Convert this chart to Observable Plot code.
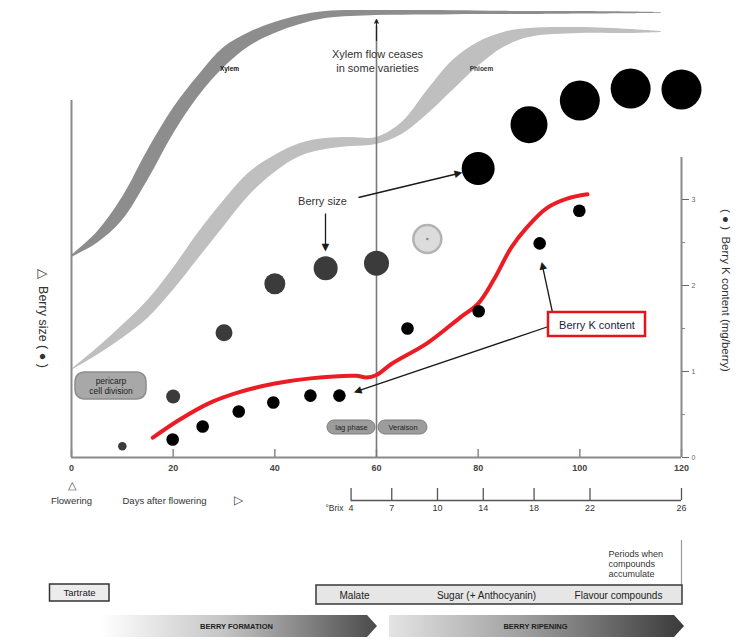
<!DOCTYPE html>
<html>
<head>
<meta charset="utf-8">
<script src="https://cdn.jsdelivr.net/npm/d3@7"></script>
<script src="https://cdn.jsdelivr.net/npm/@observablehq/plot@0.6"></script>
<style>
  body { margin: 0; background: #fff; }
  #chart svg { display: block; }
</style>
</head>
<body>
<div id="chart"></div>
<script>
// ---------- data ----------
const xTicks = [0, 20, 40, 60, 80, 100, 120];
const kTicks = [0, 1, 2, 3];
const kMinorTicks = [0.5, 1.5, 2.5];
const brixDays = [55, 63, 72, 81, 91, 102, 120];
const brixLabels = ["4", "7", "10", "14", "18", "22", "26"];

// berry size (relative, no ticks on its axis)
const sizeDays = [10, 20, 30, 40, 50, 60, 70, 80, 90, 100, 110, 120];
const sizeValues = [0.13, 0.71, 1.45, 2.02, 2.2, 2.26, 2.54, 3.36, 3.87, 4.15, 4.29, 4.28];
const sizeDiameters = [8.5, 14, 17, 21, 24, 25, 28, 33, 37, 40, 40, 40];
const sizeStages = ["green", "green", "green", "green", "green", "green", "veraison", "ripe", "ripe", "ripe", "ripe", "ripe"];

// berry K content (mg/berry)
const kDays = [19.9, 25.8, 32.9, 39.7, 47, 52.7, 66.1, 80.1, 92.1, 99.9];
const kValues = [0.21, 0.36, 0.535, 0.64, 0.72, 0.72, 1.5, 1.7, 2.49, 2.87];

// red K curve
const kCurveDays = [16, 21, 27, 33, 40, 47, 56, 58, 60, 63, 70, 76.5, 80, 83, 86.5, 89.5, 93.5, 97.5, 101.5];
const kCurveValues = [0.23, 0.43, 0.63, 0.76, 0.86, 0.92, 0.95, 0.93, 0.96, 1.09, 1.33, 1.63, 1.79, 2.06, 2.44, 2.67, 2.9, 3.01, 3.06];

// xylem / phloem flow bands (relative)
const flowDays = [0, 5, 10, 15, 20, 25, 30, 35, 40, 45, 50, 55, 60, 65, 70, 75, 80, 85, 90, 100, 110, 116];
const xylemLow = [2.326, 2.488, 2.756, 3.221, 3.756, 4.198, 4.535, 4.779, 4.930, 5.035, 5.105, 5.128, 5.140, 5.143, 5.145, 5.148, 5.151, 5.151, 5.151, 5.157, 5.160, 5.165];
const xylemHigh = [2.349, 2.616, 3.023, 3.570, 4.058, 4.442, 4.767, 4.942, 5.058, 5.140, 5.186, 5.198, 5.198, 5.198, 5.198, 5.195, 5.192, 5.188, 5.186, 5.186, 5.180, 5.174];
const phloemLow = [1.012, 1.186, 1.384, 1.616, 1.942, 2.314, 2.686, 3.047, 3.314, 3.500, 3.581, 3.616, 3.640, 3.756, 3.988, 4.267, 4.547, 4.767, 4.884, 4.930, 4.930, 4.942];
const phloemHigh = [1.023, 1.267, 1.535, 1.826, 2.198, 2.616, 2.988, 3.314, 3.512, 3.651, 3.709, 3.721, 3.721, 3.895, 4.267, 4.616, 4.826, 4.942, 4.988, 5.000, 4.977, 4.953];

const compounds = ["Malate", "Sugar (+ Anthocyanin)", "Flavour compounds"];

// ---------- tables ----------
const sizeData = sizeDays.map((d, i) => ({day: d, value: sizeValues[i], r: sizeDiameters[i] / 2, stage: sizeStages[i]}));
const kData = kDays.map((d, i) => ({day: d, value: kValues[i]}));
const kCurve = kCurveDays.map((d, i) => ({day: d, value: kCurveValues[i]}));
const xylem = flowDays.map((d, i) => ({day: d, lo: xylemLow[i], hi: xylemHigh[i]}));
const phloem = flowDays.map((d, i) => ({day: d, lo: phloemLow[i], hi: phloemHigh[i]}));
const brix = brixDays.map((d, i) => ({day: d, label: brixLabels[i]}));

// pixel helpers for annotation placement (layout only)
const X = px => (px - 71) * 120 / 610;
const Y = px => (457 - px) / 86;

const FONT = "'Liberation Sans', Arial, sans-serif";
const NARROW = "'Liberation Sans Narrow', 'Liberation Sans', Arial, sans-serif";

const stageFill = {green: "#3b3b3b", veraison: "#dcdcdc", ripe: "#000000"};
const stageStroke = {green: "none", veraison: "#b3b3b3", ripe: "none"};

// annotation arrows (start / tip, layout pixels) with filled heads
const arrowPx = [
  [358, 197, 462, 172],
  [325, 213, 325, 251],
  [552, 312, 541, 261],
  [548, 326, 353, 392]
];
const HEAD = 8;
const arrows = arrowPx.map(([sx, sy, tx, ty]) => {
  const len = Math.hypot(tx - sx, ty - sy);
  const ux = (tx - sx) / len, uy = (ty - sy) / len;
  return {
    x1: X(sx), y1: Y(sy),
    x2: X(tx - ux * HEAD * 0.8), y2: Y(ty - uy * HEAD * 0.8),
    hx: X(tx - ux * HEAD * 0.45), hy: Y(ty - uy * HEAD * 0.45),
    angle: Math.atan2(ux, -uy) * 180 / Math.PI
  };
});

const formationArrow = [
  {x: X(101), lo: Y(637), hi: Y(615)},
  {x: X(367), lo: Y(637), hi: Y(615)},
  {x: X(377), lo: Y(626), hi: Y(626)}
];
const ripeningArrow = [
  {x: X(389), lo: Y(637), hi: Y(615)},
  {x: X(674), lo: Y(637), hi: Y(615)},
  {x: X(684), lo: Y(626), hi: Y(626)}
];

const plot = Plot.plot({
  width: 739,
  height: 639,
  marginLeft: 71,
  marginRight: 58,
  marginTop: 0,
  marginBottom: 182,
  x: {domain: [0, 120]},
  y: {domain: [0, 457 / 86]},
  r: {type: "identity"},
  color: {type: "identity"},
  style: {fontFamily: FONT, background: "#fff", overflow: "visible", color: "#333"},
  marks: [
    // flow bands
    Plot.areaY(phloem, {x: "day", y1: "lo", y2: "hi", fill: "#bfbfbf", curve: "catmull-rom"}),
    Plot.areaY(xylem, {x: "day", y1: "lo", y2: "hi", fill: "#8d8d8d", curve: "catmull-rom"}),
    Plot.text(["Xylem"], {x: X(229), y: Y(68), fontSize: 6.5, fontWeight: "bold", fill: "#111"}),
    Plot.text(["Phloem"], {x: X(481), y: Y(68), fontSize: 6.5, fontWeight: "bold", fill: "#333"}),

    // frame lines
    Plot.ruleX([0], {y1: 0, y2: Y(100), stroke: "#8a8a8a", strokeWidth: 2}),
    Plot.ruleX([120], {y1: 0, y2: Y(157), stroke: "#8a8a8a", strokeWidth: 2}),
    Plot.ruleY([0], {x1: 0, x2: 120, stroke: "#8a8a8a", strokeWidth: 2}),
    Plot.ruleX(xTicks, {y1: 0, y2: Y(449), stroke: "#8a8a8a", strokeWidth: 1.5}),
    Plot.axisX({ticks: xTicks, tickSize: 0, tickPadding: 7, fontSize: 9, fontWeight: "bold", color: "#444", label: null}),
    Plot.axisY({anchor: "right", ticks: kTicks, tickSize: 7, tickPadding: 3, fontSize: 7, tickFormat: d => String(d), color: "#666", label: null}),
    Plot.axisY({anchor: "right", ticks: kMinorTicks, tickSize: 3, tickFormat: () => "", color: "#888", label: null}),

    // veraison line
    Plot.ruleX([60], {y1: 0, y2: Y(26), stroke: "#7a7a7a", strokeWidth: 1.6}),
    Plot.arrow([0], {x1: 60, y1: Y(40), x2: 60, y2: Y(19), stroke: "#222", strokeWidth: 1.2, headLength: 5, headAngle: 50}),
    Plot.text(["Xylem flow ceases\nin some varieties"], {x: X(377), y: Y(60), fontSize: 11, lineHeight: 1.25, fill: "#333"}),

    // stage boxes
    Plot.rect([0], {x1: X(75), x2: X(146), y1: Y(399), y2: Y(372), rx: 9, fill: "#a8a8a8", stroke: "#8c8c8c", strokeWidth: 1.5}),
    Plot.text(["pericarp\ncell division"], {x: X(110.5), y: Y(385.5), fontSize: 8.5, lineHeight: 1.1, fill: "#1e1e1e"}),
    Plot.rect([0], {x1: X(327), x2: X(375), y1: Y(434), y2: Y(420), rx: 7, fill: "#9c9c9c", stroke: "#7e7e7e", strokeWidth: 1}),
    Plot.text(["lag phase"], {x: X(351), y: Y(427), fontSize: 7.5, fill: "#1e1e1e"}),
    Plot.rect([0], {x1: X(378), x2: X(427), y1: Y(434), y2: Y(420), rx: 7, fill: "#9c9c9c", stroke: "#7e7e7e", strokeWidth: 1}),
    Plot.text(["Veraison"], {x: X(402.5), y: Y(427), fontSize: 7.5, fill: "#1e1e1e"}),

    // K curve and dots
    Plot.line(kCurve, {x: "day", y: "value", stroke: "#ec1c24", strokeWidth: 4, curve: "catmull-rom"}),
    Plot.dot(sizeData, {x: "day", y: "value", r: "r", fill: d => stageFill[d.stage], stroke: d => stageStroke[d.stage], strokeWidth: 2.5}),
    Plot.dot(sizeData.filter(d => d.stage === "veraison"), {x: "day", y: "value", r: 1.3, fill: "#8a8a8a"}),
    Plot.dot(kData, {x: "day", y: "value", r: 6.3, fill: "#000"}),

    // annotations
    Plot.text(["Berry size"], {x: X(322), y: Y(201), fontSize: 11, fill: "#333"}),
    Plot.link(arrows, {x1: "x1", y1: "y1", x2: "x2", y2: "y2", stroke: "#1a1a1a", strokeWidth: 1.3}),
    Plot.text(arrows, {x: "hx", y: "hy", text: () => "\u25B2", rotate: "angle", fontSize: 10, fill: "#1a1a1a", fontFamily: "DejaVu Sans, sans-serif"}),
    Plot.rect([0], {x1: X(548), x2: X(645), y1: Y(336), y2: Y(312), fill: "#fff", stroke: "#e3141c", strokeWidth: 2.5}),
    Plot.text(["Berry K content"], {x: X(596.5), y: Y(324.5), fontSize: 11, fill: "#1c1c3c"}),

    // axis titles
    Plot.text(["\u25B3  Berry size ( \u25CF )"], {x: X(42), y: Y(318), rotate: 90, fontSize: 12.5, fill: "#333"}),
    Plot.text(["( \u25CF )  Berry K content (mg/berry)"], {x: X(725), y: Y(290), rotate: 90, fontSize: 11.5, fill: "#333"}),

    // below the axis
    Plot.text(["\u25B3"], {x: 0, y: Y(485), fontSize: 11, fill: "#444"}),
    Plot.text(["Flowering"], {x: 0, y: Y(500), fontSize: 9.5, fill: "#333", fontFamily: NARROW}),
    Plot.text(["Days after flowering"], {x: X(122), y: Y(500), textAnchor: "start", fontSize: 9.5, fill: "#333", fontFamily: NARROW}),
    Plot.text(["\u25B7"], {x: X(238), y: Y(500), fontSize: 12, fill: "#444"}),

    // Brix scale
    Plot.ruleY([Y(500)], {x1: brixDays[0], x2: brixDays[brixDays.length - 1], stroke: "#555", strokeWidth: 1.3}),
    Plot.ruleX(brix, {x: "day", y1: Y(500), y2: Y(488), stroke: "#555", strokeWidth: 1.3}),
    Plot.text(brix, {x: "day", y: Y(508), text: "label", fontSize: 9, fill: "#333", fontFamily: NARROW}),
    Plot.text(["\u00B0Brix"], {x: X(343), y: Y(508), textAnchor: "end", fontSize: 8.5, fill: "#333", fontFamily: NARROW}),

    // compound periods
    Plot.text(["Periods when\ncompounds\naccumulate"], {x: X(608), y: Y(563), textAnchor: "start", fontSize: 9, lineHeight: 1.12, fill: "#333", fontFamily: NARROW}),
    Plot.ruleX([120], {y1: Y(540), y2: Y(585), stroke: "#999", strokeWidth: 1.2}),
    Plot.rect([0], {x1: X(49.5), x2: X(109), y1: Y(601), y2: Y(584), fill: "#ececec", stroke: "#333", strokeWidth: 1.5}),
    Plot.text(["Tartrate"], {x: X(79), y: Y(592.5), fontSize: 9.5, fill: "#222", fontFamily: NARROW}),
    Plot.rect([0], {x1: X(316), x2: X(682), y1: Y(604), y2: Y(585), fill: "#e6e6e6", stroke: "#444", strokeWidth: 1.6}),
    Plot.text(compounds, {x: (d, i) => [X(354), X(486), X(618)][i], y: Y(595), fontSize: 10, fill: "#222", fontFamily: NARROW}),

    // stage arrows
    Plot.areaY(formationArrow, {x: "x", y1: "lo", y2: "hi", fill: "url(#gradForm)"}),
    Plot.areaY(ripeningArrow, {x: "x", y1: "lo", y2: "hi", fill: "url(#gradRipe)"}),
    Plot.text(["BERRY FORMATION"], {x: X(236), y: Y(626), fontSize: 7.5, fontWeight: "bold", fill: "#1e1e1e", fontFamily: NARROW}),
    Plot.text(["BERRY RIPENING"], {x: X(535), y: Y(626), fontSize: 7.5, fontWeight: "bold", fill: "#1e1e1e", fontFamily: NARROW})
  ]
});

// gradients used by the stage arrows
const defs = d3.select(plot).insert("defs", ":first-child");
const g1 = defs.append("linearGradient").attr("id", "gradForm").attr("x1", "0").attr("x2", "1").attr("y1", "0").attr("y2", "0");
g1.append("stop").attr("offset", "0%").attr("stop-color", "#ffffff");
g1.append("stop").attr("offset", "45%").attr("stop-color", "#c4c4c4");
g1.append("stop").attr("offset", "100%").attr("stop-color", "#4a4a4a");
const g2 = defs.append("linearGradient").attr("id", "gradRipe").attr("x1", "0").attr("x2", "1").attr("y1", "0").attr("y2", "0");
g2.append("stop").attr("offset", "0%").attr("stop-color", "#e4e4e4");
g2.append("stop").attr("offset", "45%").attr("stop-color", "#a0a0a0");
g2.append("stop").attr("offset", "100%").attr("stop-color", "#3a3a3a");

document.getElementById("chart").appendChild(plot);
</script>
</body>
</html>
